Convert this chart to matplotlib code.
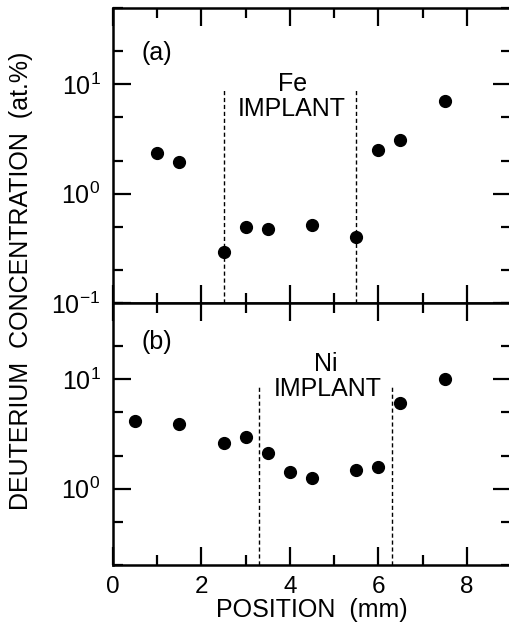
import numpy as np
import matplotlib
matplotlib.use("Agg")
import matplotlib.pyplot as plt
from matplotlib.ticker import LogLocator, MultipleLocator, NullFormatter

plt.rcParams['font.family'] = ['Liberation Sans', 'DejaVu Sans']
plt.rcParams['font.size'] = 18

# DATA
# (a) Fe implant
pos_a = [1.0, 1.5, 2.5, 3.0, 3.5, 4.5, 5.5, 6.0, 6.5, 7.5]
conc_a = [2.35, 1.94, 0.29, 0.50, 0.48, 0.52, 0.40, 2.5, 3.1, 7.1]
edges_a = [2.5, 5.5]
# (b) Ni implant
pos_b = [0.5, 1.5, 2.5, 3.0, 3.5, 4.0, 4.5, 5.5, 6.0, 6.5, 7.5]
conc_b = [4.2, 3.9, 2.6, 2.95, 2.1, 1.43, 1.24, 1.49, 1.57, 6.1, 10.0]
edges_b = [3.3, 6.3]

fig = plt.figure(figsize=(5.09, 6.25), dpi=100)
ax_a = fig.add_axes([0.222, 0.5152, 0.782, 0.472])
ax_b = fig.add_axes([0.222, 0.096, 0.782, 0.4192])


def style(ax, ylo):
    ax.set_yscale('log')
    ax.set_xlim(0, 9)
    ax.set_ylim(ylo, 50)
    ax.xaxis.set_major_locator(MultipleLocator(2))
    ax.xaxis.set_minor_locator(MultipleLocator(1))
    ax.yaxis.set_major_locator(LogLocator(base=10))
    ax.yaxis.set_minor_locator(LogLocator(base=10, subs=(2, 5)))
    ax.yaxis.set_minor_formatter(NullFormatter())
    ax.tick_params(which='both', direction='in', top=True, right=True, width=1.6)
    ax.tick_params(which='major', length=13)
    ax.tick_params(which='minor', length=7)
    ax.tick_params(axis='y', labelsize=18, pad=9)
    ax.tick_params(axis='x', labelsize=17.5, pad=8)
    for s in ax.spines.values():
        s.set_linewidth(1.8)


for ax, x, y, edges, ylo in [(ax_a, pos_a, conc_a, edges_a, 0.1),
                             (ax_b, pos_b, conc_b, edges_b, 0.2)]:
    style(ax, ylo)
    ax.plot(x, y, 'o', color='black', markersize=8.5, zorder=3)

# implant boundaries
ax_a.vlines(edges_a, 0.1, 9.2, colors='black', linestyles=(0, (3, 2)), linewidth=1)
ax_b.vlines(edges_b, 0.2, 8.6, colors='black', linestyles=(0, (3, 2)), linewidth=1)

ax_a.tick_params(labelbottom=False)
ax_a.text(0.98, 19.4, '(a)', ha='center', va='center')
ax_a.text(4.05, 10.0, 'Fe', ha='center', va='center')
ax_a.text(4.05, 6.0, 'IMPLANT', ha='center', va='center')
ax_b.text(0.98, 21.9, '(b)', ha='center', va='center')
ax_b.text(4.8, 13.7, 'Ni', ha='center', va='center')
ax_b.text(4.85, 8.1, 'IMPLANT', ha='center', va='center')

ax_b.set_xlabel('POSITION  (mm)', labelpad=0)
fig.text(0.041, 0.55, 'DEUTERIUM  CONCENTRATION  (at.%)', rotation=90,
         ha='center', va='center')

fig.savefig('out.png', dpi=100)
